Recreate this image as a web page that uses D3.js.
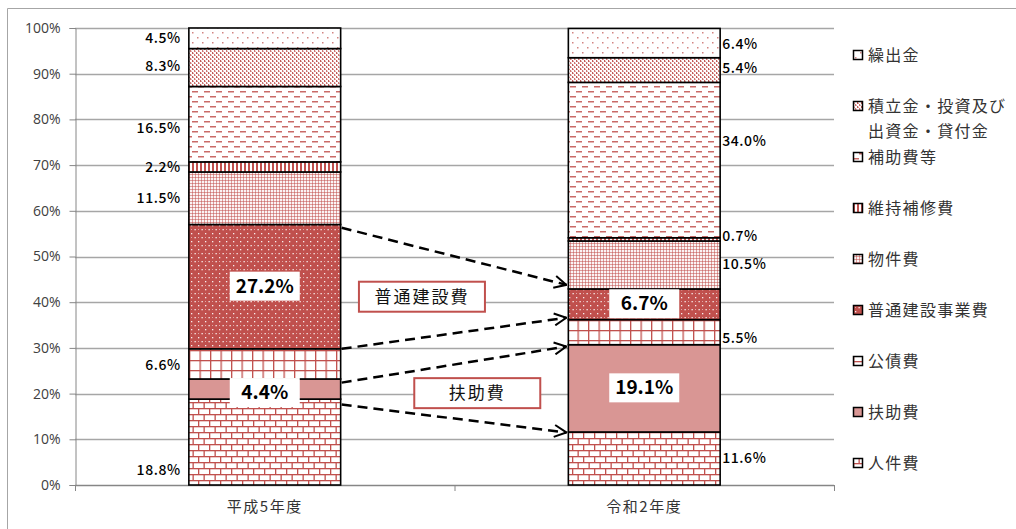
<!DOCTYPE html>
<html><head><meta charset="utf-8">
<script src="https://cdn.jsdelivr.net/npm/d3@7"></script>
<style>
body{margin:0;background:#fff;}
svg{display:block;}
</style></head>
<body>
<svg id="c" width="1016" height="529"></svg>
<script>
// ---- data ----
const categories = ["平成5年度", "令和2年度"];
const seriesNames = ["人件費","扶助費","公債費","普通建設事業費","物件費","維持補修費","補助費等","積立金・投資及び出資金・貸付金","繰出金"];
const legendLabels = [["人件費"],["扶助費"],["公債費"],["普通建設事業費"],["物件費"],["維持補修費"],["補助費等"],["積立金・投資及び","出資金・貸付金"],["繰出金"]];
const valuesH5 = [18.8, 4.4, 6.6, 27.2, 11.5, 2.2, 16.5, 8.3, 4.5];
const valuesR2 = [11.6, 19.1, 5.5, 6.7, 10.5, 0.7, 34.0, 5.4, 6.4];
const yTicks = [0,10,20,30,40,50,60,70,80,90,100];
// label anchor (in % units) for outside labels; null = segment centre
const labelAtH5 = [3.3, null, 26.2, null, 62.8, 69.6, 78.2, 91.6, 97.7];
const labelAtR2 = [5.8, null, 32.2, null, 48.3, 54.4, 75.3, 91.2, 96.4];
const emphasized = [[1,3],[1,3]]; // series indexes shown as boxed bold labels
const callouts = [{text:"普通建設費", x:0.357, v:41.2},{text:"扶助費", x:0.6, v:20.1}];
const arrowFrom = [56.3, 29.8, 22.4, 17.6];
const arrowTo   = [43.8, 36.6, 30.3, 11.5];

const RED = "#c0504d", PINK = "#d99694";
const svg = d3.select("#c");
const defs = svg.append("defs");

function pat(id, w, h, bg, draw){
  const p = defs.append("pattern").attr("id", id).attr("patternUnits","userSpaceOnUse")
    .attr("width", w).attr("height", h);
  p.append("rect").attr("width", w).attr("height", h).attr("fill", bg);
  draw(p);
}
// 人件費: bricks
pat("p0", 11, 12, "#fff", p=>{
  p.append("rect").attr("x",0).attr("y",0).attr("width",11).attr("height",1.3).attr("fill",RED);
  p.append("rect").attr("x",0).attr("y",6).attr("width",11).attr("height",1.3).attr("fill",RED);
  p.append("rect").attr("x",0).attr("y",0).attr("width",1.3).attr("height",6).attr("fill",RED);
  p.append("rect").attr("x",5.5).attr("y",6).attr("width",1.3).attr("height",6).attr("fill",RED);
});
// 扶助費: solid pink
pat("p1", 4, 4, PINK, p=>{});
// 公債費: grid
pat("p2", 10.5, 10, "#fff", p=>{
  p.append("rect").attr("x",0).attr("y",0).attr("width",10.5).attr("height",1.3).attr("fill",RED);
  p.append("rect").attr("x",0).attr("y",0).attr("width",1.3).attr("height",10).attr("fill",RED);
});
// 普通建設: solid red with white dots
pat("p3", 7, 8, RED, p=>{
  p.append("rect").attr("x",2).attr("y",1).attr("width",1.3).attr("height",1.3).attr("fill","#fff").attr("opacity",0.9);
  p.append("rect").attr("x",5.5).attr("y",5).attr("width",1.3).attr("height",1.3).attr("fill","#fff").attr("opacity",0.9);
  p.append("rect").attr("x",2).attr("y",5).attr("width",1).attr("height",1).attr("fill","#fff").attr("opacity",0.5);
});
// 物件費: fine grid
pat("p4", 3, 3, "#fff", p=>{
  p.append("rect").attr("x",0).attr("y",0).attr("width",3).attr("height",1).attr("fill",RED).attr("opacity",0.55);
  p.append("rect").attr("x",0).attr("y",0).attr("width",1).attr("height",3).attr("fill",RED).attr("opacity",0.55);
  p.append("rect").attr("x",1.5).attr("y",1.5).attr("width",1).attr("height",1).attr("fill",RED).attr("opacity",0.25);
});
// 維持補修費: vertical lines
pat("p5", 4, 4, "#fff", p=>{
  p.append("rect").attr("x",0).attr("y",0).attr("width",2).attr("height",4).attr("fill",RED);
});
// 補助費等: horizontal dashes
pat("p6", 12, 10, "#fff", p=>{
  p.append("rect").attr("x",0).attr("y",1).attr("width",6).attr("height",1.5).attr("fill",RED).attr("opacity",0.85);
  p.append("rect").attr("x",6).attr("y",6).attr("width",6).attr("height",1.5).attr("fill",RED).attr("opacity",0.85);
});
// 積立金: dense vertical dotted
pat("p7", 4, 4, "#fff", p=>{
  p.append("rect").attr("x",0).attr("y",0).attr("width",1.2).attr("height",2).attr("fill",RED).attr("opacity",0.95);
  p.append("rect").attr("x",2).attr("y",2).attr("width",1.2).attr("height",2).attr("fill",RED).attr("opacity",0.8);
  p.append("rect").attr("x",1).attr("y",1).attr("width",1).attr("height",1).attr("fill",RED).attr("opacity",0.45);
  p.append("rect").attr("x",3).attr("y",3).attr("width",1).attr("height",1).attr("fill",RED).attr("opacity",0.35);
});
// 繰出金: sparse dots
pat("p8", 10, 10, "#fff", p=>{
  p.append("rect").attr("x",2).attr("y",2).attr("width",1.5).attr("height",1.5).attr("fill",RED).attr("opacity",0.7);
  p.append("rect").attr("x",7).attr("y",7).attr("width",1.5).attr("height",1.5).attr("fill",RED).attr("opacity",0.7);
});

// arrow marker
defs.append("marker").attr("id","arr").attr("viewBox","0 0 14 14").attr("refX",13).attr("refY",7)
  .attr("markerWidth",14).attr("markerHeight",14).attr("markerUnits","userSpaceOnUse").attr("orient","auto")
  .append("path").attr("d","M1,1 L13,7 L1,13").attr("fill","none").attr("stroke","#000").attr("stroke-width",2);

// outer border
svg.append("line").attr("x1",7.5).attr("x2",7.5).attr("y1",8.5).attr("y2",529).attr("stroke","#a6a6a6");
svg.append("line").attr("x1",7.5).attr("x2",1016).attr("y1",8.5).attr("y2",8.5).attr("stroke","#a6a6a6");

const x = d3.scaleBand().domain(categories).range([75, 834]).paddingInner(0.6).paddingOuter(0.3);
const y = d3.scaleLinear().domain([0, 100]).range([485, 28]);

// gridlines
svg.append("g").selectAll("line").data(yTicks.filter(t=>t>0)).join("line")
  .attr("x1",75).attr("x2",834).attr("y1",d=>Math.round(y(d))+0.5).attr("y2",d=>Math.round(y(d))+0.5)
  .attr("stroke","#a6a6a6").attr("stroke-width",1.3);

// y axis
const yAxis = svg.append("g").attr("transform","translate(75.5,0)")
  .call(d3.axisLeft(y).tickValues(yTicks).tickFormat(d=>d+"%").tickSize(6).tickPadding(9));
yAxis.select(".domain").attr("stroke","#868686");
yAxis.selectAll(".tick line").attr("stroke","#868686");
yAxis.selectAll("text").attr("font-family","'Open Sans', Lato, sans-serif").attr("font-size",14).attr("fill","#404040");

// x axis
const xg = svg.append("g");
xg.append("line").attr("x1",75).attr("x2",834).attr("y1",485.5).attr("y2",485.5).attr("stroke","#868686").attr("stroke-width",1.3);
xg.selectAll("line.t").data([75, (75+834)/2, 834]).join("line").attr("class","t")
  .attr("x1",d=>d+0.5).attr("x2",d=>d+0.5).attr("y1",485).attr("y2",491).attr("stroke","#868686");
xg.selectAll("text").data(categories).join("text")
  .attr("x",d=>x(d)+x.bandwidth()/2).attr("y",512).attr("text-anchor","middle")
  .attr("font-family","'Noto Sans CJK JP', sans-serif").attr("font-size",15).attr("letter-spacing",1.5).attr("fill","#333")
  .text(d=>d);

// stacked bars
const allValues = [valuesH5, valuesR2];
const labelAt = [labelAtH5, labelAtR2];
categories.forEach((cat, ci) => {
  const vals = allValues[ci];
  let acc = 0;
  const segs = vals.map((v, si) => { const s = {si, v, y0: acc, y1: acc + v}; acc += v; return s; });
  const g = svg.append("g");
  g.selectAll("rect").data(segs).join("rect")
    .attr("x", x(cat)).attr("width", x.bandwidth())
    .attr("y", d => y(Math.min(d.y1, 100))).attr("height", d => y(d.y0) - y(Math.min(d.y1,100)))
    .attr("fill", d => `url(#p${d.si})`).attr("stroke","#000").attr("stroke-width",1.6);
  // outside labels
  const outside = segs.filter(d => !emphasized[ci].includes(d.si));
  g.selectAll("text.lab").data(outside).join("text").attr("class","lab")
    .attr("x", ci === 0 ? x(cat) - 8 : x(cat) + x.bandwidth() + 2)
    .attr("y", d => y(labelAt[ci][d.si] != null ? labelAt[ci][d.si] : (d.y0 + d.y1)/2))
    .attr("dy","0.35em").attr("text-anchor", ci === 0 ? "end" : "start")
    .attr("font-family","'Noto Sans CJK JP', sans-serif").attr("font-size",14).attr("letter-spacing",0.6)
    .attr("font-weight",500).attr("fill","#000")
    .text(d => d.v.toFixed(1) + "%");
  // emphasized labels
  const emph = segs.filter(d => emphasized[ci].includes(d.si));
  const eg = g.selectAll("g.emph").data(emph).join("g").attr("class","emph")
    .attr("transform", d => `translate(${x(cat)+x.bandwidth()/2},${y((d.y0+d.y1)/2) + (d.v < 6 ? 3 : -1)})`);
  eg.append("rect").attr("x",-35).attr("y",-14).attr("width",70).attr("height",29).attr("fill","#fff");
  eg.append("text").attr("text-anchor","middle").attr("dy","0.36em")
    .attr("font-family","'Noto Sans CJK JP', sans-serif").attr("font-weight","bold").attr("font-size",19)
    .text(d => d.v.toFixed(1) + "%");
});

// arrows
const xL = x(categories[0]) + x.bandwidth(), xR = x(categories[1]);
svg.append("g").selectAll("line").data(arrowFrom.map((f,i)=>[f, arrowTo[i]])).join("line")
  .attr("x1", xL + 1).attr("y1", d => y(d[0])).attr("x2", xR - 2).attr("y2", d => y(d[1]))
  .attr("stroke","#000").attr("stroke-width",2.5).attr("stroke-dasharray","10,6")
  .attr("marker-end","url(#arr)");

// callouts
const cg = svg.append("g").selectAll("g").data(callouts).join("g")
  .attr("transform", d => `translate(${xL + (xR - xL)*d.x},${y(d.v)})`);
cg.append("rect").attr("x",-63).attr("y",-15).attr("width",126).attr("height",30)
  .attr("fill","#fff").attr("stroke",RED).attr("stroke-width",2);
cg.append("text").attr("text-anchor","middle").attr("dy","0.36em")
  .attr("font-family","'Noto Sans CJK JP', sans-serif").attr("font-size",17).attr("letter-spacing",2).attr("fill","#111")
  .text(d => d.text);

// legend (reverse order)
const order = d3.range(seriesNames.length).reverse();
const lg = svg.append("g").selectAll("g").data(order).join("g")
  .attr("transform", (d,i) => `translate(853,${55 + i*51})`);
lg.append("rect").attr("x",0.5).attr("y",-4.5).attr("width",9).attr("height",9)
  .attr("fill", d => `url(#p${d})`).attr("stroke","#000").attr("stroke-width",1.5);
lg.each(function(d){
  const t = d3.select(this).append("text").attr("x",15)
    .attr("font-family","'Noto Sans CJK JP', sans-serif").attr("font-size",16).attr("letter-spacing",1.3).attr("fill","#333");
  legendLabels[d].forEach((line, li) => {
    t.append("tspan").attr("x",15).attr("y", li*25).attr("dy","0.35em").text(line);
  });
});
</script>
</body></html>
